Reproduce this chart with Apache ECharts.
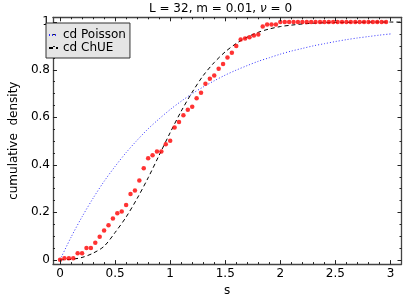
<!DOCTYPE html>
<html><head><meta charset="utf-8">
<script src="https://cdn.jsdelivr.net/npm/echarts@6/dist/echarts.min.js"></script>
<style>html,body{margin:0;padding:0;background:#fff}#c{width:407px;height:302px}</style>
</head><body><div id="c"></div>
<script>
// ---- data ----
var sData = [0,0.04,0.08,0.12,0.16,0.2,0.24,0.28,0.32,0.36,0.4,0.44,0.48,0.52,0.56,0.6,0.64,0.68,0.72,0.76,0.8,0.84,0.88,0.92,0.96,1.0,1.04,1.08,1.12,1.16,1.2,1.24,1.28,1.32,1.36,1.4,1.44,1.48,1.52,1.56,1.6,1.64,1.68,1.72,1.76,1.8,1.84,1.88,1.92,1.96,2.0,2.04,2.08,2.12,2.16,2.2,2.24,2.28,2.32,2.36,2.4,2.44,2.48,2.52,2.56,2.6,2.64,2.68,2.72,2.76,2.8,2.84,2.88,2.92,2.96];
var cdData = [0,0.007,0.007,0.007,0.028,0.028,0.05,0.05,0.072,0.097,0.123,0.145,0.174,0.196,0.203,0.231,0.277,0.292,0.334,0.385,0.427,0.44,0.456,0.456,0.486,0.501,0.557,0.58,0.608,0.631,0.644,0.68,0.703,0.741,0.762,0.775,0.804,0.824,0.851,0.871,0.899,0.927,0.931,0.936,0.943,0.948,0.981,0.99,0.99,0.99,1,1,1,1,1,1,1,1,1,1,1,1,1,1,1,1,1,1,1,1,1,1,1,1,1];
var curveS = [0,0.1,0.2,0.3,0.4,0.5,0.6,0.7,0.8,0.9,1.0,1.1,1.2,1.3,1.4,1.5,1.6,1.7,1.8,1.9,2.0,2.1,2.2,2.3,2.4,2.5,2.6,2.7,2.8,2.9,3.0,3.1];
var poisson = [0,0.095,0.181,0.259,0.33,0.393,0.451,0.503,0.551,0.593,0.632,0.667,0.699,0.727,0.753,0.777,0.798,0.817,0.835,0.85,0.865,0.878,0.889,0.9,0.909,0.918,0.926,0.933,0.939,0.945,0.95];
var chue = [0,0.002,0.01,0.028,0.057,0.115,0.18,0.258,0.345,0.44,0.535,0.625,0.705,0.775,0.83,0.875,0.91,0.937,0.957,0.971,0.981,0.987,0.992,0.995,0.997,0.998,0.999,0.999,1,1,1,1];
var xMajor = [0,0.5,1,1.5,2,2.5,3];
var xMinor = [0.1,0.2,0.3,0.4,0.6,0.7,0.8,0.9,1.1,1.2,1.3,1.4,1.6,1.7,1.8,1.9,2.1,2.2,2.3,2.4,2.6,2.7,2.8,2.9];
var yMajor = [0,0.2,0.4,0.6,0.8,1];
var yMinor = [0.05,0.1,0.15,0.25,0.3,0.35,0.45,0.5,0.55,0.65,0.7,0.75,0.85,0.9,0.95];

var FONT = 'DejaVu Sans';
var XMIN = -0.064, XMAX = 3.1, YMIN = -0.018, YMAX = 1.02;
var lineCol = '#444';
var tickCol = '#222';

function xa(pos, labels) {
  return {
    type: 'value', position: pos, min: XMIN, max: XMAX,
    axisLine: {show: true, onZero: false, lineStyle: {color: lineCol, width: 1.3}},
    axisTick: {show: false},
    axisLabel: {show: labels, customValues: xMajor, color: '#000', fontFamily: FONT, fontSize: 12, margin: 4},
    splitLine: {show: false},
    name: (labels ? 's' : ''), nameLocation: 'middle', nameGap: 14,
    nameTextStyle: {color: '#000', fontFamily: FONT, fontSize: 12}
  };
}
function ya(pos, labels) {
  return {
    type: 'value', position: pos, min: YMIN, max: YMAX,
    axisLine: {show: true, onZero: false, lineStyle: {color: lineCol, width: 1.3}},
    axisTick: {show: false},
    axisLabel: {show: labels, customValues: yMajor, color: '#000', fontFamily: FONT, fontSize: 12, margin: 3},
    splitLine: {show: false},
    name: (labels ? 'cumulative  density' : ''), nameLocation: 'middle', nameGap: 25,
    nameTextStyle: {color: '#000', fontFamily: FONT, fontSize: 12}
  };
}

var scatter = sData.map(function (s, i) { return [s, cdData[i]]; });
var pLine = poisson.map(function (v, i) { return [curveS[i], v]; });
var cLine = chue.map(function (v, i) { return [curveS[i], v]; });

// tick marks (value, length) drawn through the axes' scales
var xTicks = xMajor.map(function (v) { return [v, 4]; }).concat(xMinor.map(function (v) { return [v, 2]; }));
var yTicks = yMajor.map(function (v) { return [4, v]; }).concat(yMinor.map(function (v) { return [2, v]; }));

function ln(x1, y1, x2, y2) {
  return {type: 'line', shape: {x1: x1, y1: y1, x2: x2, y2: y2}, style: {stroke: tickCol, lineWidth: 1}};
}
function renderXTick(params, api) {
  var v = api.value(0), len = api.value(1);
  var b = api.coord([v, YMIN]), t = api.coord([v, YMAX]);
  var x = Math.round(b[0]) + 0.5;
  return {type: 'group', children: [ln(x, b[1], x, b[1] - len), ln(x, t[1], x, t[1] + len)]};
}
function renderYTick(params, api) {
  var len = api.value(0), v = api.value(1);
  var l = api.coord([XMIN, v]), r = api.coord([XMAX, v]);
  var y = Math.round(l[1]) + 0.5;
  return {type: 'group', children: [ln(l[0], y, l[0] + len, y), ln(r[0], y, r[0] - len, y)]};
}

var chart = echarts.init(document.getElementById('c'), null, {renderer: 'canvas'});
chart.setOption({
  animation: false,
  backgroundColor: '#fff',
  title: {
    text: 'L = 32, m = 0.01, {i|ν} = 0', left: 149, top: 3, padding: 0,
    textStyle: {fontFamily: FONT, fontSize: 12, fontWeight: 'normal', color: '#000',
      rich: {i: {fontFamily: FONT, fontSize: 12, fontStyle: 'italic', color: '#000'}}}
  },
  grid: {left: 41, right: 5.5, top: 17.3, bottom: 28.7, containLabel: false},
  xAxis: [xa('bottom', true), xa('top', false)],
  yAxis: [ya('left', true), ya('right', false)],
  legend: {
    left: 46, top: 23, orient: 'vertical',
    backgroundColor: '#e5e5e5', borderColor: '#333', borderWidth: 1, borderRadius: 0,
    padding: [6, 4, 4, 2], itemWidth: 9, itemHeight: 12, itemGap: 1,
    itemStyle: {opacity: 0},
    textStyle: {fontFamily: FONT, fontSize: 12, color: '#000', lineHeight: 12},
    data: ['cd Poisson', 'cd ChUE']
  },
  series: [
    {name: 'cd Poisson', type: 'line', data: pLine, symbol: 'none', smooth: 0.3,
      lineStyle: {color: '#3333ff', width: 1, type: [1, 2]}, itemStyle: {color: '#3333ff'}, z: 2},
    {name: 'cd ChUE', type: 'line', data: cLine, symbol: 'none', smooth: 0.3,
      lineStyle: {color: '#000', width: 1, type: [4, 3]}, itemStyle: {color: '#000'}, z: 3},
    {name: 'data', type: 'scatter', data: scatter, symbol: 'circle', symbolSize: 4.5,
      itemStyle: {color: '#ff0000'}, z: 4},
    {name: 'xticks', type: 'custom', data: xTicks, renderItem: renderXTick, silent: true, z: 5, clip: false},
    {name: 'yticks', type: 'custom', data: yTicks, renderItem: renderYTick, silent: true, z: 5, clip: false}
  ]
});
</script></body></html>
